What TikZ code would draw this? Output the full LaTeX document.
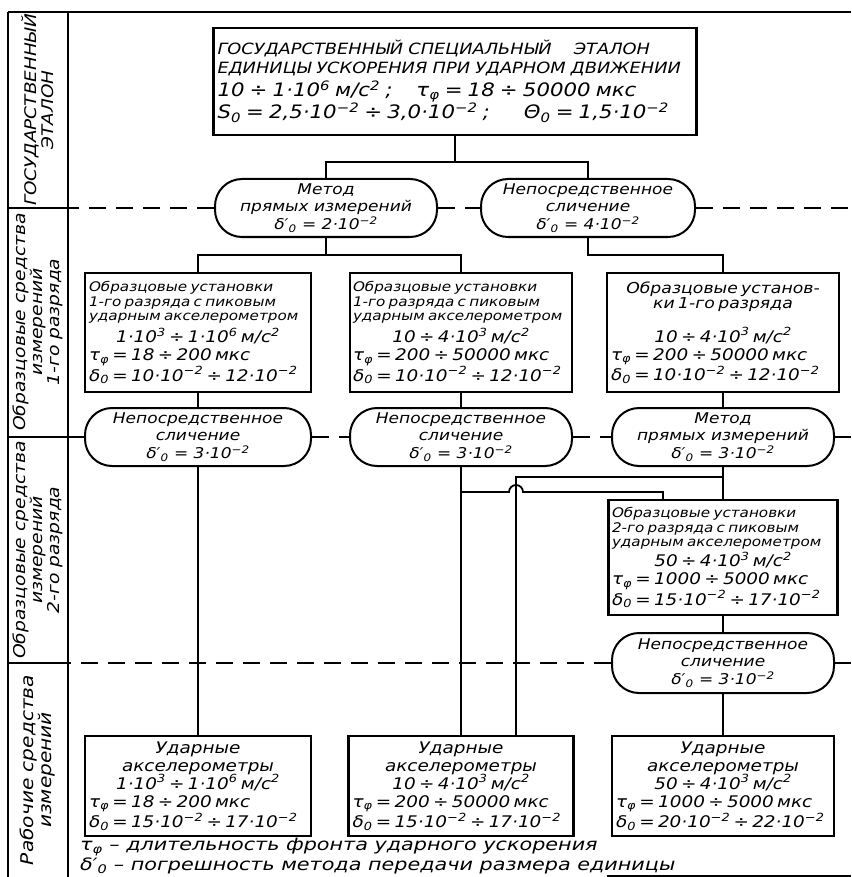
\documentclass[tikz,border=0pt]{standalone}
\usepackage{fontspec}
\setmainfont{DejaVu Sans}[FakeStretch=1.15]
\usetikzlibrary{calc}
\newcommand\sps[1]{\textsuperscript{#1}}
\newcommand\tf{τ\textsubscript{φ}}
\newcommand\dz{δ\textsubscript{0}}
\newcommand\dzp{δ′\textsubscript{0}}
\newcommand\hdr{\fontsize{13.2}{14.5}\selectfont\itshape}
\newcommand\num{\fontsize{16}{18}\selectfont\itshape}
\newcommand\ovf{\fontsize{14.8}{17.5}\selectfont\itshape}
\newcommand\topf{\fontsize{15.5}{19}\selectfont\itshape}
\newcommand\topn{\fontsize{18.5}{23}\selectfont\itshape}
\newcommand\lcf{\fontsize{16.3}{17}\selectfont\itshape}
\newcommand\legf{\fontsize{17}{18}\selectfont\itshape}
\begin{document}
\begin{tikzpicture}[x=1pt,y=-1pt,
  frame/.style={line width=1.6pt},
  conn/.style={line width=1.8pt},
  dash line/.style={line width=1.4pt, dash pattern=on 17pt off 10pt},
  box/.style={draw, line width=2.4pt, inner sep=3pt, align=left},
  oval/.style={draw, line width=2pt, rounded corners=27pt, inner sep=0pt, align=center, font=\ovf, minimum height=58pt},
  legend/.style={anchor=west, font=\legf, inner sep=0pt, xscale=1.06, transform shape}]
\useasboundingbox (0,0) rectangle (851,877);

% frame
\draw[frame] (8,12) -- (851,12);
\draw[frame] (8,12) -- (8,877);
\draw[frame] (68,12) -- (68,877);
\draw[frame] (8,208) -- (68,208);
\draw[frame] (8,437) -- (68,437);
\draw[frame] (8,663) -- (68,663);
\draw[frame] (607,876) -- (851,876);

% left column labels
\node[rotate=90, align=center, font=\fontsize{16}{17}\selectfont\itshape] (s1) at (38,110) {ГОСУДАРСТВЕННЫЙ\\ЭТАЛОН};
\node[rotate=90, align=center, font=\lcf] (s2) at (38,322) {Образцовые средства\\измерений\\1-го разряда};
\node[rotate=90, align=center, font=\lcf] (s3) at (38,550) {Образцовые средства\\измерений\\2-го разряда};
\node[rotate=90, align=center, font=\fontsize{17.5}{18}\selectfont\itshape] (s4) at (38,770) {Рабочие средства\\измерений};

% top box
\node[box, line width=2.8pt, minimum width=483pt, minimum height=107pt, text width=475pt, font=\topf] (top) at (455,81.5)
{ГОСУДАРСТВЕННЫЙ СПЕЦИАЛЬНЫЙ\hspace{22pt}ЭТАЛОН\\ЕДИНИЦЫ УСКОРЕНИЯ ПРИ УДАРНОМ ДВИЖЕНИИ\par
\topn 10 ÷ 1·10\sps{6} м/с\sps{2} ;\hspace{24pt}\tf{} = 18 ÷ 50000 мкс\\
S\textsubscript{0} = 2,5·10\sps{−2} ÷ 3,0·10\sps{−2} ;\hspace{34pt}Θ\textsubscript{0} = 1,5·10\sps{−2}};

% row 1 ovals
\node[oval, minimum width=222pt] (A) at (326,208) {Метод\\прямых измерений\\\dzp{} = 2·10\sps{−2}};
\node[oval, minimum width=214pt] (B) at (588,208) {Непосредственное\\сличение\\\dzp{} = 4·10\sps{−2}};

% row 2 boxes
\node[box, minimum width=226pt, minimum height=119pt, text width=218pt] (box1) at (198,332.5)
{\hdr Образцовые установки\\1-го разряда с пиковым\\ударным акселерометром\par\vspace{4pt}
\num\centerline{1·10\sps{3} ÷ 1·10\sps{6} м/с\sps{2}}
\tf{} = 18 ÷ 200 мкс\\\dz{} = 10·10\sps{−2} ÷ 12·10\sps{−2}};
\node[box, minimum width=222pt, minimum height=119pt, text width=216pt] (box2) at (461,332.5)
{\hdr Образцовые установки\\1-го разряда с пиковым\\ударным акселерометром\par\vspace{4pt}
\num\centerline{10 ÷ 4·10\sps{3} м/с\sps{2}}
\tf{} = 200 ÷ 50000 мкс\\\dz{} = 10·10\sps{−2} ÷ 12·10\sps{−2}};
\node[box, minimum width=232pt, minimum height=119pt, text width=224pt] (box3) at (723,332.5)
{\fontsize{15}{15}\selectfont\itshape\centering Образцовые установ-\\ки 1-го разряда\par\vspace{16pt}
\num\centerline{10 ÷ 4·10\sps{3} м/с\sps{2}}\raggedright
\tf{} = 200 ÷ 50000 мкс\\\dz{} = 10·10\sps{−2} ÷ 12·10\sps{−2}};

% row 3 ovals
\node[oval, minimum width=226pt] (C1) at (198,437) {Непосредственное\\сличение\\\dzp{} = 3·10\sps{−2}};
\node[oval, minimum width=222pt] (C2) at (461,437) {Непосредственное\\сличение\\\dzp{} = 3·10\sps{−2}};
\node[oval, minimum width=222pt] (C3) at (723,437) {Метод\\прямых измерений\\\dzp{} = 3·10\sps{−2}};

% 2nd grade box
\node[box, minimum width=229pt, minimum height=115pt, text width=222pt] (D) at (723,557.5)
{\hdr Образцовые установки\\2-го разряда с пиковым\\ударным акселерометром\par\vspace{2pt}
\num\centerline{50 ÷ 4·10\sps{3} м/с\sps{2}}
\tf{} = 1000 ÷ 5000 мкс\\\dz{} = 15·10\sps{−2} ÷ 17·10\sps{−2}};
\node[oval, minimum width=222pt, minimum height=60pt] (E) at (723,663) {Непосредственное\\сличение\\\dzp{} = 3·10\sps{−2}};

% working instruments
\node[box, minimum width=226pt, minimum height=100pt, text width=218pt] (B1) at (198,786)
{\num\centering Ударные\\акселерометры\par\raggedright
\centerline{1·10\sps{3} ÷ 1·10\sps{6} м/с\sps{2}}
\tf{} = 18 ÷ 200 мкс\\\dz{} = 15·10\sps{−2} ÷ 17·10\sps{−2}};
\node[box, minimum width=225pt, minimum height=100pt, text width=217pt] (B2) at (461,786)
{\num\centering Ударные\\акселерометры\par\raggedright
\centerline{10 ÷ 4·10\sps{3} м/с\sps{2}}
\tf{} = 200 ÷ 50000 мкс\\\dz{} = 15·10\sps{−2} ÷ 17·10\sps{−2}};
\node[box, minimum width=222pt, minimum height=100pt, text width=214pt] (B3) at (723,786)
{\num\centering Ударные\\акселерометры\par\raggedright
\centerline{50 ÷ 4·10\sps{3} м/с\sps{2}}
\tf{} = 1000 ÷ 5000 мкс\\\dz{} = 20·10\sps{−2} ÷ 22·10\sps{−2}};

% legend
\node[legend] (lg1) at (80,847) {\tf{} – длительность фронта ударного ускорения};
\node[legend] (lg2) at (80,866) {\dzp{} – погрешность метода передачи размера единицы};

% dashed level lines
\coordinate (L1) at (68,208); \coordinate (R1) at (851,208);
\coordinate (L2) at (68,437); \coordinate (R2) at (851,437);
\coordinate (L3) at (68,663); \coordinate (R3) at (851,663);
\draw[dash line] (A.west) -- (L1);
\draw[dash line] (A.east) -- (B.west);
\draw[dash line] (B.east) -- (R1);
\draw[dash line] (C1.west) -- (L2);
\draw[dash line] (C1.east) -- (C2.west);
\draw[dash line] (C2.east) -- (C3.west);
\draw[dash line] (C3.east) -- (R2);
\draw[dash line] (E.west) -- (L3);
\draw[dash line] (E.east) -- (R3);

% connectors
\coordinate (j0) at (455,162);
\draw[conn] (top.south) -- (j0);
\draw[conn] (A.north) |- (j0) -| (B.north);
\coordinate (jA) at (326,255);
\draw[conn] (A.south) -- (jA);
\draw[conn] (box1.north) |- (jA) -| (box2.north);
\coordinate (jB) at (588,255);
\draw[conn] (B.south) -- (jB) -| (box3.north);
\draw[conn] (box1.south) -- (C1.north);
\draw[conn] (box2.south) -- (C2.north);
\draw[conn] (box3.south) -- (C3.north);
\draw[conn] (C1.south) -- (B1.north);
\draw[conn] (C2.south) -- (B2.north);
\draw[conn] (C3.south) -- (D.north);
\coordinate (jC3) at (723,477);
\coordinate (b2r) at ($(B2.north)+(55,0)$);
\draw[conn] (jC3) -| (b2r);
\coordinate (jC2) at (461,492);
\coordinate (dl) at ($(D.north)+(-60,0)$);
\draw[conn] (jC2) -- ($(b2r |- jC2)+(-7,0)$) arc[start angle=180, end angle=360, radius=7] -- (dl |- jC2) -- (dl);
\draw[conn] (D.south) -- (E.north);
\draw[conn] (E.south) -- (B3.north);
\end{tikzpicture}
\end{document}
